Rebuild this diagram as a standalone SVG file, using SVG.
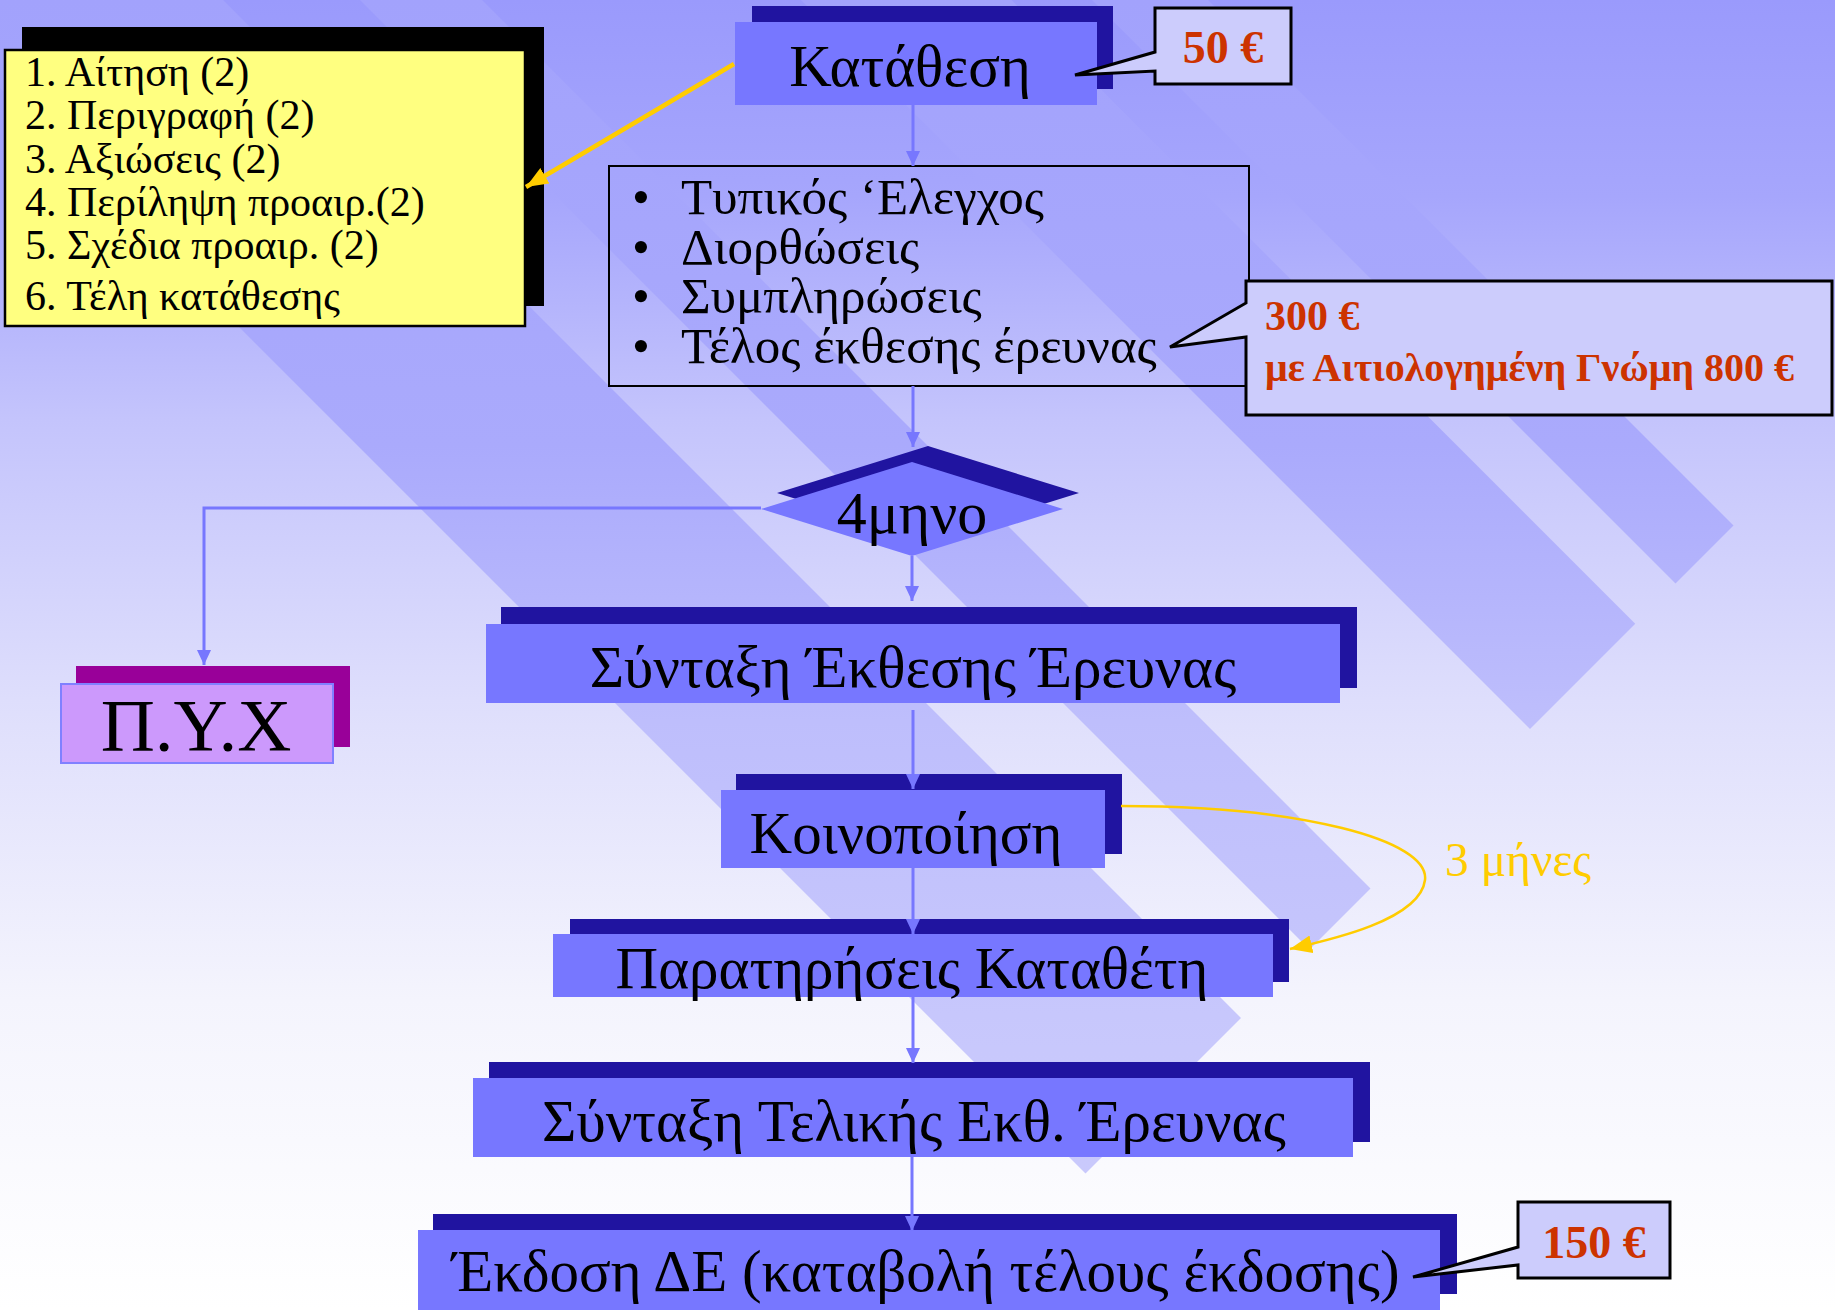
<svg xmlns="http://www.w3.org/2000/svg" width="1835" height="1310" viewBox="0 0 1835 1310">
<defs>
<linearGradient id="bg" x1="0" y1="0" x2="0" y2="1310" gradientUnits="userSpaceOnUse">
<stop offset="0" stop-color="#9a9afc"/>
<stop offset="0.15" stop-color="#a6a6fc"/>
<stop offset="0.32" stop-color="#c4c4fc"/>
<stop offset="0.534" stop-color="#dedefc"/>
<stop offset="0.763" stop-color="#f4f4fd"/>
<stop offset="1" stop-color="#ffffff"/>
</linearGradient>
<linearGradient id="band" x1="0" y1="0" x2="0" y2="1310" gradientUnits="userSpaceOnUse">
<stop offset="0" stop-color="#a2a2fc"/>
<stop offset="0.34" stop-color="#aaaafc"/>
<stop offset="0.55" stop-color="#bebefc"/>
<stop offset="0.8" stop-color="#c8c8fc"/>
<stop offset="1" stop-color="#cacafc"/>
</linearGradient>
<marker id="ab" markerUnits="userSpaceOnUse" markerWidth="16" markerHeight="16" refX="15" refY="7" orient="auto">
<path d="M0,0 L15,7 L0,14 Z" fill="#7777fe"/>
</marker>
<marker id="ay" markerUnits="userSpaceOnUse" markerWidth="24" markerHeight="20" refX="22" refY="9" orient="auto">
<path d="M0,0 L22,9 L0,18 Z" fill="#ffcc00"/>
</marker>
<style>
.shadow{fill:#2014a0;}
.box{fill:#7777ff;}
.lbl{font-family:"Liberation Serif","Times New Roman",serif;font-size:59px;fill:#000;text-anchor:middle;}
.list{font-family:"Liberation Serif","Times New Roman",serif;font-size:42px;fill:#000;}
.bul{font-family:"Liberation Serif","Times New Roman",serif;font-size:51px;fill:#000;}
.price{font-family:"Liberation Serif","Times New Roman",serif;font-weight:bold;fill:#cc3300;}
.callout{fill:#ccccfc;stroke:#000;stroke-width:3;stroke-linejoin:miter;}
.conn{stroke:#7777fe;stroke-width:3;fill:none;}
.yconn{stroke:#ffcc00;fill:none;}
.bandp{fill:url(#band);}
</style>
</defs>
<rect x="0" y="0" width="1835" height="1310" fill="url(#bg)"/>
<g id="background-bands">
<polygon class="bandp" points="1082,-10 1198,-10 1733.5,525.5 1675.5,583.5"/>
<polygon class="bandp" points="791,-10 1001.5,-10 1635.25,623.75 1530,729"/>
<polygon class="bandp" points="350,-10 472,-10 1370.5,888.5 1309.5,949.5"/>
<polygon class="bandp" points="-98,-10 213,-10 1241,1018 1085.5,1173.5"/>
</g>

<g id="node-list">
<rect x="22" y="27" width="522" height="279" fill="#000"/>
<rect x="5" y="50" width="520" height="276" fill="#ffff80" stroke="#000" stroke-width="2.5"/>
<text class="list"><tspan x="25" y="86">1. Αίτηση (2)</tspan><tspan x="25" y="129">2. Περιγραφή (2)</tspan><tspan x="25" y="173">3. Αξιώσεις (2)</tspan><tspan x="25" y="216">4. Περίληψη προαιρ.(2)</tspan><tspan x="25" y="259">5. Σχέδια προαιρ. (2)</tspan><tspan x="25" y="310">6. Τέλη κατάθεσης</tspan></text>
</g>

<g id="node-katathesi">
<rect class="shadow" x="752" y="6" width="361" height="83"/>
<rect class="box" x="735" y="22" width="362" height="83"/>
<text class="lbl" x="910" y="86">Κατάθεση</text>
</g>

<g id="node-checks">
<rect x="609" y="166" width="640" height="220" fill="none" stroke="#000" stroke-width="2"/>
<text class="bul"><tspan x="632" y="214">•</tspan><tspan x="681" y="214">Τυπικός ‘Ελεγχος</tspan><tspan x="632" y="264">•</tspan><tspan x="681" y="264">Διορθώσεις</tspan><tspan x="632" y="313">•</tspan><tspan x="681" y="313">Συμπληρώσεις</tspan><tspan x="632" y="363">•</tspan><tspan x="681" y="363">Τέλος έκθεσης έρευνας</tspan></text>
</g>

<g id="node-4mino">
<polygon class="shadow" points="928,446 1079,493 928,540 777,493"/>
<polygon class="box" points="912,462 1063,509 912,556 761,509"/>
<text class="lbl" x="912" y="533" style="font-size:60px">4μηνο</text>
</g>

<g id="node-pyx">
<rect x="76" y="666" width="274" height="81" fill="#990099"/>
<rect x="61" y="684" width="272" height="79" fill="#cc99fc" stroke="#8080ff" stroke-width="2"/>
<text class="lbl" x="196" y="751" style="font-size:75px">Π.Υ.Χ</text>
</g>

<g id="node-syntaxi">
<rect class="shadow" x="501" y="607" width="856" height="81"/>
<rect class="box" x="486" y="624" width="854" height="79"/>
<text class="lbl" x="913" y="687">Σύνταξη Έκθεσης Έρευνας</text>
</g>

<g id="node-koinopoiisi">
<rect class="shadow" x="736" y="774" width="386" height="80"/>
<rect class="box" x="721" y="790" width="384" height="78"/>
<text class="lbl" x="906" y="853">Κοινοποίηση</text>
</g>

<g id="node-paratiriseis">
<rect class="shadow" x="570" y="919" width="719" height="63"/>
<rect class="box" x="553" y="934" width="720" height="63"/>
<text class="lbl" x="912" y="988">Παρατηρήσεις Καταθέτη</text>
</g>

<g id="node-teliki">
<rect class="shadow" x="489" y="1062" width="881" height="80"/>
<rect class="box" x="473" y="1078" width="880" height="79"/>
<text class="lbl" x="914" y="1141">Σύνταξη Τελικής Εκθ. Έρευνας</text>
</g>

<g id="node-ekdosi">
<rect class="shadow" x="433" y="1214" width="1024" height="80"/>
<rect class="box" x="418" y="1230" width="1022" height="90"/>
<text class="lbl" x="926" y="1291">Έκδοση ΔΕ (καταβολή τέλους έκδοσης)</text>
</g>

<g id="callout-50">
<path class="callout" d="M1155,8 L1291,8 L1291,84 L1155,84 L1155,71 L1075,75 L1155,52 Z"/>
<text class="price" x="1223" y="63" text-anchor="middle" style="font-size:46px">50 €</text>
</g>

<g id="callout-300">
<path class="callout" d="M1246,281 L1832,281 L1832,415 L1246,415 L1246,337 L1170,347 L1246,303 Z"/>
<text class="price" x="1265" y="330" style="font-size:42px">300 €</text>
<text class="price" x="1265" y="381" style="font-size:40px">με Αιτιολογημένη Γνώμη 800 €</text>
</g>

<g id="callout-150">
<path class="callout" d="M1518,1202 L1670,1202 L1670,1278 L1518,1278 L1518,1265 L1413,1277 L1518,1247 Z"/>
<text class="price" x="1594" y="1258" text-anchor="middle" style="font-size:46px">150 €</text>
</g>

<g id="connectors">
<path class="conn" d="M913,105 L913,166" marker-end="url(#ab)"/>
<path class="conn" d="M913,386 L913,447" marker-end="url(#ab)"/>
<path class="conn" d="M761,508 L204,508 L204,665" marker-end="url(#ab)"/>
<path class="conn" d="M912,556 L912,601" marker-end="url(#ab)"/>
<path class="conn" d="M913,710 L913,789" marker-end="url(#ab)"/>
<path class="conn" d="M913,868 L913,934" marker-end="url(#ab)"/>
<path class="conn" d="M913,997 L913,1063" marker-end="url(#ab)"/>
<path class="conn" d="M912,1157 L912,1231" marker-end="url(#ab)"/>
<path class="yconn" d="M734,64 L526,187" stroke-width="4.5" marker-end="url(#ay)"/>
<path class="yconn" d="M1121,806 C1300,806 1430,840 1425,880 C1420,920 1330,940 1290,949" stroke-width="2.5" marker-end="url(#ay)"/>
<text x="1445" y="876" style="font-family:'Liberation Serif','Times New Roman',serif;font-size:47.5px;fill:#ffcc00">3 μήνες</text>
</g>
</svg>
